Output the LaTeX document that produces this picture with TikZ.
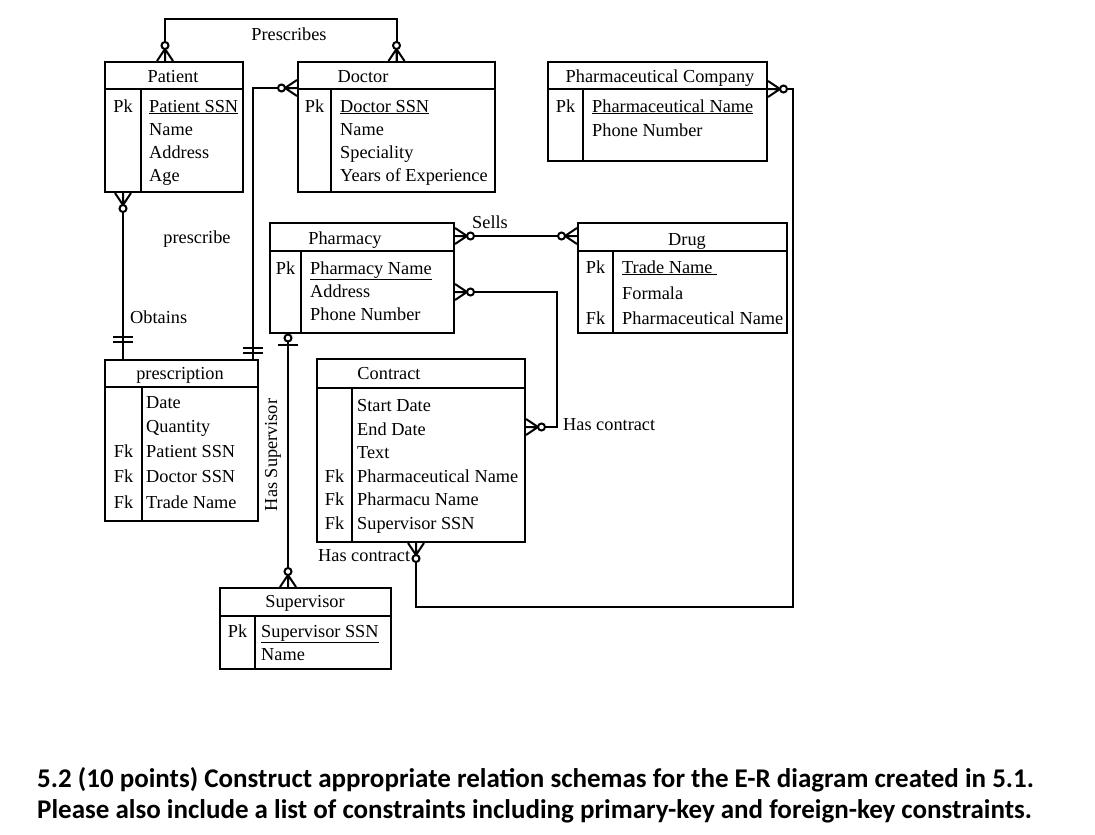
\documentclass[tikz,border=0pt]{standalone}
\usepackage{fontspec}
\setmainfont{Liberation Serif}
\newfontfamily\taskfont{Carlito}
\usetikzlibrary{positioning,calc}
\tikzset{ent/.style={draw, rectangle, line width=2pt, inner sep=0pt}}
\tikzset{rel/.style={line width=2pt}}
\tikzstyle{ttl}=[anchor=base, inner sep=0pt]
\tikzstyle{lbl}=[anchor=base, inner sep=0pt]
\tikzstyle{att}=[anchor=base west, inner sep=0pt]
\tikzstyle{key}=[anchor=base, inner sep=0pt]
\tikzset{
  pics/zmany/.style={code={
    \draw[rel] (0,-8) -- (12,0) -- (0,8) (0,0) -- (12,0);
    \draw[rel, fill=white] (15.5,0) circle (3.5);}},
  pics/zone/.style={code={
    \draw[rel, fill=white] (4,0) circle (3.5);
    \draw[rel] (11,-10) -- (11,10);}},
  pics/onlyone/.style={code={
    \draw[rel] (6,-10) -- (6,10) (11,-10) -- (11,10);}}
}

\begin{document}
\begin{tikzpicture}[x=1pt, y=-1pt, font=\fontsize{18.3}{22}\selectfont]
\path[use as bounding box] (0,0) rectangle (1095,835);

% Patient
\node[ent, minimum width=138pt, minimum height=130pt] (pat) at (174,127) {};
\draw[rel] (105,89) -- (243,89) (141,89) -- (141,192);
\node[ttl] (patT0) at (173,82) {Patient};
\node[key] (patK1) at (123,112) {Pk};
\node[att] (patA1) at (149,112) {\underline{Patient SSN}};
\node[att] (patA2) at (149,135) {Name};
\node[att] (patA3) at (149,158) {Address};
\node[att] (patA4) at (149,181) {Age};

% Doctor
\node[ent, minimum width=197pt, minimum height=130pt] (doc) at (396.5,127) {};
\draw[rel] (298,89) -- (495,89) (331,89) -- (331,192);
\node[ttl] (docT0) at (363,82) {Doctor};
\node[key] (docK1) at (314.5,112) {Pk};
\node[att] (docA1) at (340,112) {\underline{Doctor SSN}};
\node[att] (docA2) at (340,135) {Name};
\node[att] (docA3) at (340,158) {Speciality};
\node[att] (docA4) at (340,181) {Years of Experience};

% Pharmaceutical Company
\node[ent, minimum width=219pt, minimum height=99pt] (pc) at (657.5,111.5) {};
\draw[rel] (548,89) -- (767,89) (583,89) -- (583,161);
\node[ttl] (pcT0) at (660,82) {Pharmaceutical Company};
\node[key] (pcK1) at (565.5,112) {Pk};
\node[att] (pcA1) at (592,112) {\underline{Pharmaceutical Name}};
\node[att] (pcA2) at (592,136) {Phone Number};

% Pharmacy
\node[ent, minimum width=184pt, minimum height=110pt] (phy) at (362,278) {};
\draw[rel] (270,251) -- (454,251) (301,251) -- (301,333);
\node[ttl] (phyT0) at (345,244) {Pharmacy};
\node[key] (phyK1) at (285.5,274) {Pk};
\node[att] (phyA1) at (310,274) {\underline{Pharmacy Name}};
\node[att] (phyA2) at (310,297) {Address};
\node[att] (phyA3) at (310,320) {Phone Number};

% Drug
\node[ent, minimum width=209pt, minimum height=110pt] (drug) at (682.5,278) {};
\draw[rel] (578,251) -- (787,251) (613,251) -- (613,333);
\node[ttl] (drugT0) at (687,245) {Drug};
\node[key] (drugK1) at (595.5,273) {Pk};
\node[key] (drugK3) at (595.5,324) {Fk};
\node[att] (drugA1) at (622,273) {\underline{Trade Name\ }};
\node[att] (drugA2) at (622,299) {Formala};
\node[att] (drugA3) at (622,324) {Pharmaceutical Name};

% prescription
\node[ent, minimum width=153pt, minimum height=161pt] (rx) at (181.5,440.5) {};
\draw[rel] (105,387) -- (258,387) (142,387) -- (142,521);
\node[ttl] (rxT0) at (180,379) {prescription};
\node[key] (rxK3) at (123.5,457) {Fk};
\node[key] (rxK4) at (123.5,482) {Fk};
\node[key] (rxK5) at (123.5,508) {Fk};
\node[att] (rxA1) at (146,408) {Date};
\node[att] (rxA2) at (146,432) {Quantity};
\node[att] (rxA3) at (146,457) {Patient SSN};
\node[att] (rxA4) at (146,482) {Doctor SSN};
\node[att] (rxA5) at (146,508) {Trade Name};

% Contract
\node[ent, minimum width=208pt, minimum height=183pt] (ct) at (421,450.5) {};
\draw[rel] (317,388) -- (525,388) (352,388) -- (352,542);
\node[ttl] (ctT0) at (389,379) {Contract};
\node[key] (ctK4) at (334.5,482) {Fk};
\node[key] (ctK5) at (334.5,505) {Fk};
\node[key] (ctK6) at (334.5,529) {Fk};
\node[att] (ctA1) at (357,411) {Start Date};
\node[att] (ctA2) at (357,435) {End Date};
\node[att] (ctA3) at (357,458) {Text};
\node[att] (ctA4) at (357,482) {Pharmaceutical Name};
\node[att] (ctA5) at (357,505) {Pharmacu Name};
\node[att] (ctA6) at (357,529) {Supervisor SSN};

% Supervisor
\node[ent, minimum width=171pt, minimum height=81pt] (sup) at (305.5,628.5) {};
\draw[rel] (220,616) -- (391,616) (255,616) -- (255,669);
\node[ttl] (supT0) at (305,607) {Supervisor};
\node[key] (supK1) at (237.5,637) {Pk};
\node[att] (supA1) at (261,637) {\underline{Supervisor SSN}};
\node[att] (supA2) at (261,660) {Name};

% connection points
\coordinate (patT) at ([xshift=-9pt]pat.north);
\coordinate (patB) at ([xshift=-51pt]pat.south);
\coordinate (rxL) at (patB |- rx.north);
\coordinate (docL) at ([yshift=-27pt]doc.north west);
\coordinate (rxR) at ([xshift=-6pt]rx.north east);
\coordinate (phyS) at ([yshift=42pt]phy.east);
\coordinate (phyC) at ([yshift=-14pt]phy.east);
\coordinate (ctR) at ([yshift=23.5pt]ct.east);
\coordinate (pcR) at ([yshift=22.5pt]pc.east);
\coordinate (ctB) at ([xshift=-5pt]ct.south);
\coordinate (phyB) at ([xshift=-74pt]phy.south);

% relationships
\draw[rel] (patT) -- ++(0,-42) -| (doc.north);
\draw[rel] (patB) -- (rxL);
\draw[rel] (docL) -| (rxR);
\draw[rel] (phyS) -- (phyS -| drug.west);
\draw[rel] (phyC) -- ++(102,0) |- (ctR);
\draw[rel] (pcR) -- ++(25,0) -- ++(0,518) -| (ctB);
\draw[rel] (phyB) -- (phyB |- sup.north);

\pic[rotate=90] at (patT) {zmany};
\pic[rotate=90] at (doc.north) {zmany};
\pic[rotate=-90] at (patB) {zmany};
\pic[rotate=90] at ([yshift=11pt]rxL) {onlyone};
\pic[rotate=180] at (docL) {zmany};
\pic[rotate=90] at (rxR) {onlyone};
\pic at (phyS) {zmany};
\pic[rotate=180] at (phyS -| drug.west) {zmany};
\pic at (phyC) {zmany};
\pic at (ctR) {zmany};
\pic at (pcR) {zmany};
\pic[rotate=-90] at (ctB) {zmany};
\pic[rotate=-90] at (phyB) {zone};
\pic[rotate=90] at (phyB |- sup.north) {zmany};

% labels
\node[lbl] (lPrescribes) at (289,40) {Prescribes};
\node[lbl] (lprescribe) at (197,243) {prescribe};
\node[lbl, anchor=base west] (lObtains) at (130,323) {Obtains};
\node[lbl, anchor=base west] (lSells) at (472,228) {Sells};
\node[lbl, anchor=base west] (lHasC1) at (563,430) {Has contract};
\node[lbl, anchor=base west] (lHasC2) at (318,561) {Has contract};
\node[rotate=90, inner sep=0pt] (lHasSup) at (273,455) {Has Supervisor};

% task text
\node[att, font=\taskfont\bfseries\fontsize{27}{30}\selectfont] (task1) at (37,787)
  {5.2 (10 points) Construct appropriate relation schemas for the E-R diagram created in 5.1.};
\node[att, font=\taskfont\bfseries\fontsize{27}{30}\selectfont] (task2) at (37,818)
  {Please also include a list of constraints including primary-key and foreign-key constraints.};
\end{tikzpicture}
\end{document}
